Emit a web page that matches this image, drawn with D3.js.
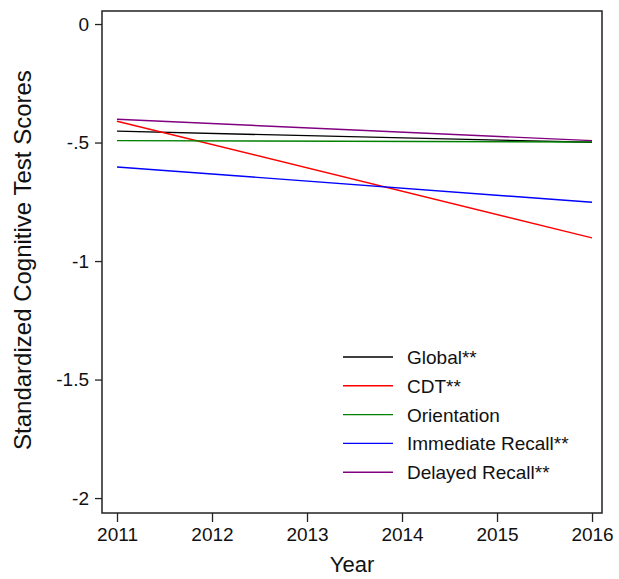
<!DOCTYPE html>
<html>
<head>
<meta charset="utf-8">
<script src="https://cdn.jsdelivr.net/npm/d3@7"></script>
<style>
  body { margin: 0; background: #fff; }
  svg { font-family: "Liberation Sans", Arial, sans-serif; }
</style>
</head>
<body>
<svg id="chart"></svg>
<script>
// data
const years = [2011, 2016];
const seriesNames = ['Global**', 'CDT**', 'Orientation', 'Immediate Recall**', 'Delayed Recall**'];
const seriesColors = ['#000000', '#ff0000', '#008000', '#0000ff', '#800080'];
const globalVals = [-0.452, -0.499];
const cdtVals = [-0.41, -0.902];
const orientationVals = [-0.492, -0.498];
const immediateVals = [-0.603, -0.752];
const delayedVals = [-0.402, -0.492];
const yTicks = [0, -0.5, -1, -1.5, -2];
const xTicks = [2011, 2012, 2013, 2014, 2015, 2016];

const allVals = [globalVals, cdtVals, orientationVals, immediateVals, delayedVals];

// set up constants
const width = 619;
const height = 579;
const box = { left: 102, right: 602, top: 11, bottom: 513 };

const svg = d3.select('#chart')
  .attr('width', width)
  .attr('height', height);

// scales
const xScale = d3.scaleLinear()
  .domain([2010.842, 2016.105])
  .range([box.left, box.right]);

const yScale = d3.scaleLinear()
  .domain([0.055, -2.063])
  .range([box.top, box.bottom]);

// frame
svg.append('rect')
  .attr('x', box.left)
  .attr('y', box.top)
  .attr('width', box.right - box.left)
  .attr('height', box.bottom - box.top)
  .attr('fill', 'none')
  .attr('stroke', '#222')
  .attr('stroke-width', 1.5);

// axes
const xAxis = d3.axisBottom(xScale)
  .tickValues(xTicks)
  .tickFormat(d3.format('d'))
  .tickSizeOuter(0)
  .tickSize(9)
  .tickPadding(6);

const yAxis = d3.axisLeft(yScale)
  .tickValues(yTicks)
  .tickFormat(d => d === 0 ? '0' : String(d).replace('0.', '.'))
  .tickSizeOuter(0)
  .tickSize(7)
  .tickPadding(6);

const gx = svg.append('g')
  .attr('transform', `translate(0, ${box.bottom})`)
  .call(xAxis);

const gy = svg.append('g')
  .attr('transform', `translate(${box.left}, 0)`)
  .call(yAxis);

[gx, gy].forEach(g => {
  g.select('.domain').remove();
  g.selectAll('line').attr('stroke', '#222').attr('stroke-width', 1.3);
  g.selectAll('text')
    .attr('fill', '#111')
    .style('font-size', '19px')
    .style('font-family', '"Liberation Sans", Arial, sans-serif');
});

// axis titles
svg.append('text')
  .attr('x', (box.left + box.right) / 2)
  .attr('y', 572)
  .attr('text-anchor', 'middle')
  .style('font-size', '22px')
  .attr('fill', '#111')
  .text('Year');

svg.append('text')
  .attr('transform', `translate(31, ${yScale(-1) - 1}) rotate(-90)`)
  .attr('text-anchor', 'middle')
  .style('font-size', '24px')
  .attr('fill', '#111')
  .text('Standardized Cognitive Test Scores');

// lines
const line = d3.line()
  .x((d, i) => xScale(years[i]))
  .y(d => yScale(d));

svg.selectAll('path.series')
  .data(allVals)
  .enter()
  .append('path')
  .attr('class', 'series')
  .attr('d', d => line(d))
  .attr('fill', 'none')
  .attr('stroke', (d, i) => seriesColors[i])
  .attr('stroke-width', 1.4);

// legend
const legend = svg.append('g')
  .attr('transform', 'translate(343, 357)');

const rows = legend.selectAll('g')
  .data(seriesNames)
  .enter()
  .append('g')
  .attr('transform', (d, i) => `translate(0, ${i * 28.8})`);

rows.append('line')
  .attr('x1', 0)
  .attr('x2', 50)
  .attr('y1', 0)
  .attr('y2', 0)
  .attr('stroke', (d, i) => seriesColors[i])
  .attr('stroke-width', 1.4);

rows.append('text')
  .attr('x', 64)
  .attr('y', 7)
  .style('font-size', '19px')
  .attr('fill', '#111')
  .text(d => d);
</script>
</body>
</html>
